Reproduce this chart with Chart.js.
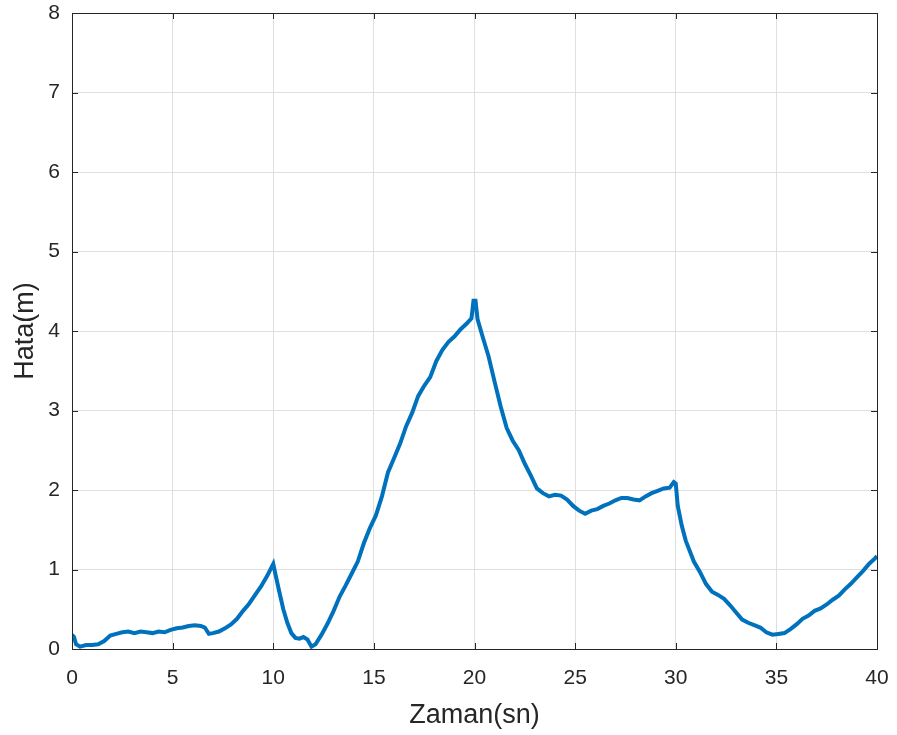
<!DOCTYPE html>
<html>
<head>
<meta charset="utf-8">
<script src="https://cdn.jsdelivr.net/npm/chart.js@4.4.1/dist/chart.umd.min.js"></script>
<style>
  html, body { margin: 0; padding: 0; background: #fff; }
  #wrap { width: 897px; height: 735px; }
</style>
</head>
<body>
<div id="wrap"><canvas id="hataChart" width="897" height="735"></canvas></div>
<script>
// Zaman (sn) ve hata (m) örnekleri
const zaman = [
  0, 0.1, 0.2, 0.4, 0.7, 1.0, 1.3, 1.6, 1.9, 2.2, 2.5, 2.8, 3.1, 3.4, 3.7, 4.0, 4.3, 4.6, 4.9,
  5.2, 5.5, 5.8, 6.1, 6.4, 6.6, 6.8, 7.0, 7.3, 7.6, 7.9, 8.2, 8.5, 8.8, 9.1, 9.4, 9.7, 9.9,
  10.0, 10.1, 10.3, 10.5, 10.7, 10.9, 11.1, 11.3, 11.5, 11.7, 11.9, 12.1, 12.4, 12.7, 13.0,
  13.3, 13.6, 13.9, 14.2, 14.5, 14.8, 15.1, 15.4, 15.7, 16.0, 16.3, 16.6, 16.9, 17.2, 17.5,
  17.8, 18.1, 18.4, 18.7, 19.0, 19.3, 19.6, 19.85, 19.95, 20.05, 20.15, 20.4, 20.7, 21.0,
  21.3, 21.6, 21.9, 22.2, 22.5, 22.8, 23.1, 23.4, 23.7, 24.0, 24.3, 24.6, 24.9, 25.2, 25.5,
  25.8, 26.1, 26.4, 26.7, 27.0, 27.3, 27.6, 27.9, 28.2, 28.5, 28.8, 29.1, 29.4, 29.7, 29.9,
  30.0, 30.1, 30.3, 30.5, 30.7, 30.9, 31.2, 31.5, 31.8, 32.1, 32.4, 32.7, 33.0, 33.3, 33.6,
  33.9, 34.2, 34.5, 34.8, 35.1, 35.4, 35.7, 36.0, 36.3, 36.6, 36.9, 37.2, 37.5, 37.8, 38.1,
  38.4, 38.7, 39.0, 39.3, 39.6, 39.9, 40.0
];
const hata = [
  0.18, 0.15, 0.06, 0.03, 0.05, 0.05, 0.06, 0.10, 0.17, 0.19, 0.21, 0.22, 0.20, 0.22, 0.21, 0.20, 0.22, 0.21, 0.24,
  0.26, 0.27, 0.29, 0.30, 0.29, 0.27, 0.19, 0.20, 0.22, 0.26, 0.31, 0.38, 0.48, 0.57, 0.68, 0.79, 0.92, 1.02,
  1.07, 0.95, 0.72, 0.50, 0.33, 0.20, 0.14, 0.13, 0.15, 0.12, 0.03, 0.06, 0.18, 0.32, 0.48,
  0.66, 0.80, 0.95, 1.10, 1.33, 1.52, 1.68, 1.92, 2.22, 2.40, 2.58, 2.80, 2.97, 3.18, 3.31,
  3.42, 3.62, 3.76, 3.86, 3.93, 4.02, 4.09, 4.16, 4.38, 4.38, 4.15, 3.93, 3.68, 3.36,
  3.05, 2.78, 2.62, 2.50, 2.33, 2.18, 2.02, 1.96, 1.92, 1.94, 1.93, 1.88, 1.80, 1.74, 1.70,
  1.74, 1.76, 1.80, 1.83, 1.87, 1.90, 1.90, 1.88, 1.87, 1.92, 1.96, 1.99, 2.02, 2.03, 2.10,
  2.08, 1.80, 1.55, 1.36, 1.23, 1.10, 0.97, 0.82, 0.72, 0.68, 0.63, 0.55, 0.46, 0.37, 0.33,
  0.30, 0.27, 0.21, 0.18, 0.19, 0.20, 0.25, 0.31, 0.38, 0.42, 0.48, 0.51, 0.56, 0.62, 0.67,
  0.75, 0.82, 0.90, 0.98, 1.07, 1.14, 1.17
];

const xTicks = [0, 5, 10, 15, 20, 25, 30, 35, 40];
const yTicks = [0, 1, 2, 3, 4, 5, 6, 7, 8];

const axisColor = '#262626';
const gridColor = '#dfdfdf';
const fontFamily = '"Liberation Sans", Arial, sans-serif';

// Kutu çerçevesi ve içe dönük tik çizgileri (MATLAB görünümü)
const boxPlugin = {
  id: 'boxPlugin',
  afterDraw(chart) {
    const { ctx, chartArea: a, scales } = chart;
    const len = 6;
    ctx.save();
    ctx.strokeStyle = axisColor;
    ctx.lineWidth = 1;
    ctx.beginPath();
    xTicks.forEach(v => {
      const px = Math.round(scales.x.getPixelForValue(v)) + 0.5;
      ctx.moveTo(px, a.bottom); ctx.lineTo(px, a.bottom - len);
      ctx.moveTo(px, a.top); ctx.lineTo(px, a.top + len);
    });
    yTicks.forEach(v => {
      const py = Math.round(scales.y.getPixelForValue(v)) + 0.5;
      ctx.moveTo(a.left, py); ctx.lineTo(a.left + len, py);
      ctx.moveTo(a.right, py); ctx.lineTo(a.right - len, py);
    });
    ctx.stroke();
    ctx.strokeRect(Math.round(a.left) + 0.5, Math.round(a.top) + 0.5,
      Math.round(a.right - a.left), Math.round(a.bottom - a.top));
    ctx.restore();
  }
};

let hataChart = null;

function createHataChart() {
  const ctx = document.getElementById('hataChart');
  if (hataChart) hataChart.destroy();

  hataChart = new Chart(ctx, {
    type: 'line',
    data: {
      datasets: [{
        label: 'Hata',
        data: zaman.map((t, i) => ({ x: t, y: hata[i] })),
        borderColor: '#0072BD',
        borderWidth: 4,
        pointRadius: 0,
        tension: 0,
        fill: false
      }]
    },
    options: {
      responsive: false,
      animation: false,
      layout: { padding: { left: 0, right: 20, top: 13, bottom: 0 } },
      plugins: {
        legend: { display: false },
        tooltip: { enabled: false }
      },
      scales: {
        x: {
          type: 'linear',
          min: 0,
          max: 40,
          // eksen alanını sabitle, etiket taşmasını yok say
          afterFit: (s) => { s.height = 86; s.paddingLeft = 0; s.paddingRight = 0; },
          afterBuildTicks: (s) => { s.ticks = xTicks.map(v => ({ value: v })); },
          ticks: { color: axisColor, padding: 17, font: { family: fontFamily, size: 21 } },
          grid: { color: gridColor, drawTicks: false },
          border: { display: false },
          title: {
            display: true,
            text: 'Zaman(sn)',
            color: axisColor,
            font: { family: fontFamily, size: 27 },
            padding: { top: 4, bottom: 3 }
          }
        },
        y: {
          min: 0,
          max: 8,
          afterFit: (s) => { s.width = 72; s.paddingTop = 0; s.paddingBottom = 0; },
          afterBuildTicks: (s) => { s.ticks = yTicks.map(v => ({ value: v })); },
          ticks: { color: axisColor, padding: 12, font: { family: fontFamily, size: 21 } },
          grid: { color: gridColor, drawTicks: false },
          border: { display: false },
          title: {
            display: true,
            text: 'Hata(m)',
            color: axisColor,
            font: { family: fontFamily, size: 27 },
            padding: { top: 9, bottom: 0 }
          }
        }
      }
    },
    plugins: [boxPlugin]
  });
}

createHataChart();
</script>
</body>
</html>
